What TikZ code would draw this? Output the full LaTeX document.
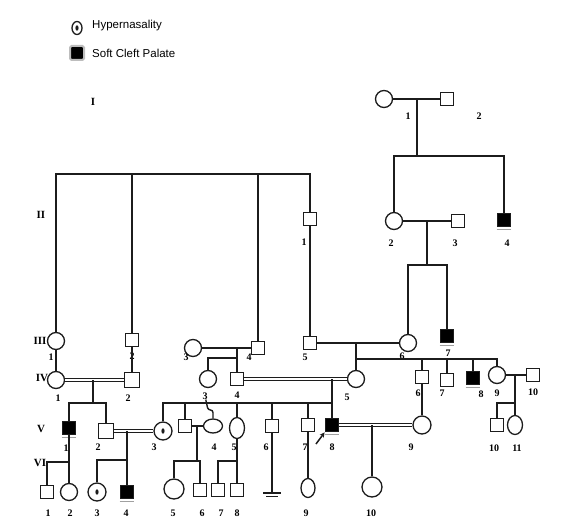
\documentclass[tikz,border=0pt]{standalone}
\usepackage{fontspec}
\setmainfont{Liberation Serif}
\newfontfamily\legfont{Liberation Sans}
\usetikzlibrary{shapes.geometric, arrows.meta, calc}
\definecolor{pdline}{HTML}{1C1C1C}
\definecolor{pdgray}{HTML}{A0A0A0}

\begin{document}
\begin{tikzpicture}[x=1pt, y=-1pt,
    male/.style={draw=pdline, line width=1.3pt, fill=white, minimum size=13.5pt, inner sep=0pt},
    female/.style={circle, draw=pdline, line width=1.3pt, fill=white, minimum size=17pt, inner sep=0pt},
    ovalf/.style 2 args={female, ellipse, minimum width=#1, minimum height=#2},
    affected/.style={male, fill=black,
                     append after command={([yshift=-2.4pt]\tikzlastnode.south west) edge[draw=pdgray, line width=0.7pt] ([yshift=-2.4pt]\tikzlastnode.south east)}},
    hyper/.style={female, path picture={\fill[pdline] (path picture bounding box.center) ellipse (1.6pt and 2.7pt);}},
    num/.style={font=\bfseries\fontsize{10}{11}\selectfont, inner sep=0pt},
    gen/.style={font=\bfseries\fontsize{11}{12}\selectfont, inner sep=0pt},
    legtxt/.style={font=\legfont\fontsize{11.5}{13}\selectfont, inner sep=0pt, anchor=west},
    lnk/.style={draw=pdline, line width=1.4pt},
    consang/.style={draw=pdline, double=white, double distance=1.8pt, line width=1pt},
    boldlnk/.style={draw=pdline, line width=2.8pt}]
  \useasboundingbox (0,0) rectangle (578,532);

  % legend
  \node[hyper, ellipse, minimum width=10pt, minimum height=13pt] (keyH) at (77,28) {};
  \node[legtxt] (keyHt) at (92,26) {Hypernasality};
  \node[draw=pdgray!70, fill=black, line width=2pt, rounded corners=1.5pt, minimum size=14pt, inner sep=0pt] (keyS) at (77,53) {};
  \node[legtxt] (keySt) at (92,53) {Soft Cleft Palate};

  % generation labels
  \node[gen] (gI) at (93,102) {I};
  \node[gen] (gII) at (41,215) {II};
  \node[gen] (gIII) at (40,341) {III};
  \node[gen] (gIV) at (42,378) {IV};
  \node[gen] (gV) at (41,429) {V};
  \node[gen] (gVI) at (40,463) {VI};

  % generation I
  \node[female] (I1) at (384,99) {};
  \node[male] (I2) at (447,99) {};
  \node[num] (I1n) at (408,116) {1};
  \node[num] (I2n) at (479,116) {2};

  % generation II
  \node[male] (II1) at (310,219) {};
  \node[female] (II2) at (394,221) {};
  \node[male] (II3) at (458,221) {};
  \node[affected] (II4) at (504,220) {};
  \node[num] (II1n) at (304,242) {1};
  \node[num] (II2n) at (391,243) {2};
  \node[num] (II3n) at (455,243) {3};
  \node[num] (II4n) at (507,243) {4};

  % generation III
  \node[female] (III1) at (56,341) {};
  \node[male] (III2) at (132,340) {};
  \node[female] (III3) at (193,348) {};
  \node[male] (III4) at (258,348) {};
  \node[male] (III5) at (310,343) {};
  \node[female] (III6) at (408,343) {};
  \node[affected] (III7) at (447,336) {};
  \node[num] (III1n) at (51,357) {1};
  \node[num] (III2n) at (132,356) {2};
  \node[num] (III3n) at (186,357) {3};
  \node[num] (III4n) at (249,357) {4};
  \node[num] (III5n) at (305,357) {5};
  \node[num] (III6n) at (402,356) {6};
  \node[num] (III7n) at (448,353) {7};

  % generation IV
  \node[female] (IV1) at (56,380) {};
  \node[male, minimum size=15pt] (IV2) at (132,380) {};
  \node[female] (IV3) at (208,379) {};
  \node[male] (IV4) at (237,379) {};
  \node[female] (IV5) at (356,379) {};
  \node[male] (IV6) at (422,377) {};
  \node[male] (IV7) at (447,380) {};
  \node[affected] (IV8) at (473,378) {};
  \node[female] (IV9) at (497,375) {};
  \node[male] (IV10) at (533,375) {};
  \node[num] (IV1n) at (58,398) {1};
  \node[num] (IV2n) at (128,398) {2};
  \node[num] (IV3n) at (205,396) {3};
  \node[num] (IV4n) at (237,395) {4};
  \node[num] (IV5n) at (347,397) {5};
  \node[num] (IV6n) at (418,393) {6};
  \node[num] (IV7n) at (442,393) {7};
  \node[num] (IV8n) at (481,394) {8};
  \node[num] (IV9n) at (497,393) {9};
  \node[num] (IV10n) at (533,392) {10};

  % generation V
  \node[affected] (V1) at (69,428) {};
  \node[male, minimum size=15pt] (V2) at (106,431) {};
  \node[hyper, minimum size=18pt] (V3) at (163,431) {};
  \node[male] (V4m) at (185,426) {};
  \node[ovalf={19pt}{14pt}] (V4) at (213,426) {};
  \node[ovalf={15pt}{21pt}] (V5) at (237,428) {};
  \node[male] (V6) at (272,426) {};
  \node[male] (V7) at (308,425) {};
  \node[affected] (V8) at (332,425) {};
  \node[female, minimum size=18pt] (V9) at (422,425) {};
  \node[male] (V10) at (497,425) {};
  \node[ovalf={15pt}{19pt}] (V11) at (515,425) {};
  \node[num] (V1n) at (66,448) {1};
  \node[num] (V2n) at (98,447) {2};
  \node[num] (V3n) at (154,447) {3};
  \node[num] (V4n) at (214,447) {4};
  \node[num] (V5n) at (234,447) {5};
  \node[num] (V6n) at (266,447) {6};
  \node[num] (V7n) at (305,447) {7};
  \node[num] (V8n) at (332,447) {8};
  \node[num] (V9n) at (411,447) {9};
  \node[num] (V10n) at (494,448) {10};
  \node[num] (V11n) at (517,448) {11};

  % generation VI
  \node[male] (VI1) at (47,492) {};
  \node[female] (VI2) at (69,492) {};
  \node[hyper, minimum size=18pt] (VI3) at (97,492) {};
  \node[affected] (VI4) at (127,492) {};
  \node[female, minimum size=20pt] (VI5) at (174,489) {};
  \node[male] (VI6) at (200,490) {};
  \node[male] (VI7) at (218,490) {};
  \node[male] (VI8) at (237,490) {};
  \node[ovalf={14pt}{19pt}] (VI9) at (308,488) {};
  \node[female, minimum size=20pt] (VI10) at (372,487) {};
  \node[num] (VI1n) at (48,513) {1};
  \node[num] (VI2n) at (70,513) {2};
  \node[num] (VI3n) at (97,513) {3};
  \node[num] (VI4n) at (126,513) {4};
  \node[num] (VI5n) at (173,513) {5};
  \node[num] (VI6n) at (202,513) {6};
  \node[num] (VI7n) at (221,513) {7};
  \node[num] (VI8n) at (237,513) {8};
  \node[num] (VI9n) at (306,513) {9};
  \node[num] (VI10n) at (371,513) {10};

  % line junctions
  \coordinate (cI) at (417,99);    \coordinate (sI) at (417,156);
  \coordinate (cII) at (427,221);  \coordinate (sII) at (427,265);
  \coordinate (sB) at (310,174);
  \coordinate (cIII1) at (237,348); \coordinate (sIII1) at (237,358);
  \coordinate (cIII2) at (356,343); \coordinate (sIII2) at (356,359);
  \coordinate (cIV1) at (93,380);  \coordinate (sIV1) at (93,403);
  \coordinate (cIV2) at (332,379); \coordinate (sIV2) at (332,403);
  \coordinate (cIV3) at (515,375); \coordinate (sIV3) at (515,403);
  \coordinate (wA) at (208,410);   \coordinate (wB) at (213,410);
  \coordinate (cV1) at (127,431);  \coordinate (sV1) at (127,460);
  \coordinate (bV1) at (69,462);
  \coordinate (cV2) at (197,426);  \coordinate (sV2) at (197,461);
  \coordinate (sV3) at (237,461);
  \coordinate (cV4) at (372,425);
  \coordinate (gnd) at (272,493);
  \coordinate (pb) at (316,444);

  % I -> II
  \draw[lnk] (I1) -- (I2);
  \draw[lnk] (cI) -- (sI);
  \draw[lnk] (II2) |- (sI) -| (II4);
  % II -> III
  \draw[lnk] (II2) -- (II3);
  \draw[lnk] (cII) -- (sII);
  \draw[lnk] (III6) |- (sII) -| (III7);
  \draw[lnk] (III1) |- (sB) -- (II1);
  \draw[lnk] (III2) -- (III2 |- sB);
  \draw[lnk] (III4) -- (III4 |- sB);
  \draw[lnk] (II1) -- (III5);
  % III -> IV
  \draw[lnk] (III3) -- (III4);
  \draw[lnk] (cIII1) -- (IV4);
  \draw[lnk] (IV3) |- (sIII1);
  \draw[lnk] (III5) -- (III6);
  \draw[lnk] (cIII2) -- (IV5);
  \draw[lnk] (sIII2) -| (IV9);
  \draw[lnk] (IV6) -- (IV6 |- sIII2);
  \draw[lnk] (IV7) -- (IV7 |- sIII2);
  \draw[lnk] (IV8) -- (IV8 |- sIII2);
  \draw[lnk] (III1) -- (IV1);
  \draw[lnk] (III2) -- (IV2);
  % IV -> V
  \draw[consang] (IV1) -- (IV2);
  \draw[lnk] (cIV1) -- (sIV1);
  \draw[lnk] (V1) |- (sIV1) -| (V2);
  \draw[consang] (IV4) -- (IV5);
  \draw[lnk] (cIV2) -- (V8);
  \draw[lnk] (V3) |- (sIV2);
  \draw[lnk] (V4m) -- (V4m |- sIV2);
  \draw[lnk] (V5) -- (V5 |- sIV2);
  \draw[lnk] (V6) -- (V6 |- sIV2);
  \draw[lnk] (V7) -- (V7 |- sIV2);
  \draw[lnk, rounded corners=2.5pt] (IV3n) -- (wA) -- (wB) -- (V4);
  \draw[boldlnk] (IV9) -- (IV10);
  \draw[lnk] (cIV3) -- (V11);
  \draw[lnk] (V10) |- (sIV3);
  \draw[lnk] (IV6) -- (V9);
  % V -> VI
  \draw[consang] (V2) -- (V3);
  \draw[lnk] (cV1) -- (VI4);
  \draw[lnk] (VI3) |- (sV1);
  \draw[lnk] (V1) -- (VI2);
  \draw[lnk] (VI1) |- (bV1);
  \draw[boldlnk] (V4m) -- (V4);
  \draw[lnk] (cV2) -- (sV2);
  \draw[lnk] (VI5) |- (sV2) -| (VI6);
  \draw[lnk] (V5) -- (VI8);
  \draw[lnk] (VI7) |- (sV3);
  \draw[lnk] (V6) -- (gnd);
  \draw[lnk] ($(gnd)+(-9,0)$) -- ($(gnd)+(9,0)$);
  \draw[lnk] ($(gnd)+(-6,3.5)$) -- ($(gnd)+(6,3.5)$);
  \draw[lnk] (V7) -- (VI9);
  \draw[consang] (V8) -- (V9);
  \draw[lnk] (cV4) -- (VI10);
  % proband
  \draw[line width=1.5pt, pdline, -{Stealth[length=5pt, width=5pt]}] (pb) -- (V8.south west);
\end{tikzpicture}
\end{document}
